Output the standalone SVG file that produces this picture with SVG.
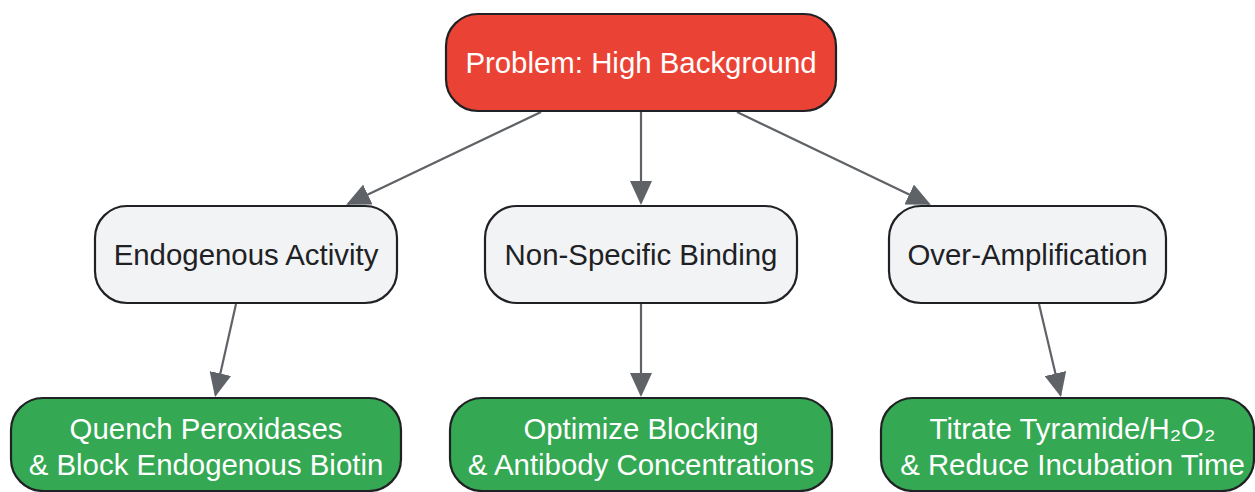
<svg xmlns="http://www.w3.org/2000/svg" width="1255" height="492" viewBox="0 0 1255 492">
<style>
.n{stroke:#202124;stroke-width:2.2}
.red{fill:#EA4335}
.gray{fill:#F1F3F4}
.green{fill:#34A853}
text{font-family:"Liberation Sans",Arial,sans-serif;font-size:29.4px;text-anchor:middle}
.w{fill:#FFFFFF}
.d{fill:#202124}
.e{stroke:#5F6368;stroke-width:2.2;fill:none;marker-end:url(#arr)}
</style>
<defs>
<marker id="arr" viewBox="0 0 24 22" refX="22" refY="11" markerWidth="24" markerHeight="22" markerUnits="userSpaceOnUse" orient="auto">
<path d="M0,0 L24,11 L0,22 z" fill="#5F6368"/>
</marker>
</defs>
<rect width="1255" height="492" fill="#FFFFFF"/>
<g id="connectors">
<line class="e" x1="541" y1="112" x2="348" y2="204"/>
<line class="e" x1="641" y1="112" x2="641" y2="203"/>
<line class="e" x1="737" y1="112" x2="929" y2="204"/>
<line class="e" x1="236" y1="304" x2="215.5" y2="395"/>
<line class="e" x1="641" y1="304" x2="641" y2="395"/>
<line class="e" x1="1039" y1="304" x2="1060.5" y2="395"/>
</g>
<g id="problem">
<rect class="n red" x="446" y="14" width="390" height="97" rx="32"/>
<text class="w" x="641" y="72.5">Problem: High Background</text>
</g>
<g id="endogenous">
<rect class="n gray" x="95" y="206" width="302" height="97" rx="32"/>
<text class="d" x="246" y="264.5">Endogenous Activity</text>
</g>
<g id="nonspecific">
<rect class="n gray" x="485" y="206" width="312" height="97" rx="32"/>
<text class="d" x="641" y="264.5">Non-Specific Binding</text>
</g>
<g id="overamp">
<rect class="n gray" x="889" y="206" width="277" height="97" rx="32"/>
<text class="d" x="1027.5" y="264.5">Over-Amplification</text>
</g>
<g id="quench">
<rect class="n green" x="11" y="398" width="390" height="93" rx="32"/>
<text class="w" x="206" y="438.5">Quench Peroxidases</text>
<text class="w" x="206" y="474.5">&amp; Block Endogenous Biotin</text>
</g>
<g id="optimize">
<rect class="n green" x="450" y="398" width="382" height="93" rx="32"/>
<text class="w" x="641" y="438.5">Optimize Blocking</text>
<text class="w" x="641" y="474.5">&amp; Antibody Concentrations</text>
</g>
<g id="titrate">
<rect class="n green" x="881" y="398" width="373" height="93" rx="32"/>
<text class="w" x="1072.5" y="438.5">Titrate Tyramide/H₂O₂</text>
<text class="w" x="1072.5" y="474.5">&amp; Reduce Incubation Time</text>
</g>
</svg>
